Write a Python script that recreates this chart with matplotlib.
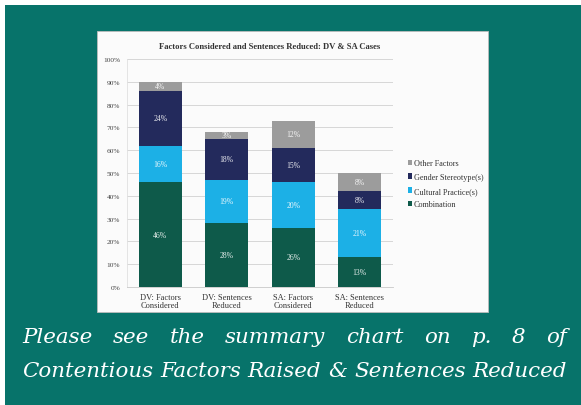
import matplotlib
matplotlib.use("Agg")
import matplotlib.pyplot as plt
from matplotlib.patches import Rectangle
import numpy as np

categories = ["DV: Factors\nConsidered", "DV: Sentences\nReduced", "SA: Factors\nConsidered", "SA: Sentences\nReduced"]
series_names = ["Combination", "Cultural Practice(s)", "Gender Stereotype(s)", "Other Factors"]
combination = [46, 28, 26, 13]
cultural = [16, 19, 20, 21]
gender = [24, 18, 15, 8]
other = [4, 3, 12, 8]
yticks = [0, 10, 20, 30, 40, 50, 60, 70, 80, 90, 100]
title = "Factors Considered and Sentences Reduced: DV & SA Cases"
caption1 = "Please see the summary chart on p. 8 of"
caption2 = "Contentious Factors Raised & Sentences Reduced"

colors = ["#0e5a4a", "#1cb0e6", "#232a5c", "#9c9c9c"]
W, H = 581, 406
fig = plt.figure(figsize=(W / 100, H / 100), dpi=100)
fig.patch.set_facecolor("white")

def px(x0, y0, x1, y1):
    return (x0 / W, 1 - y1 / H, (x1 - x0) / W, (y1 - y0) / H)

x, y, w, h = px(5, 6, 581, 406)
fig.patches.append(Rectangle((x, y), w, h, transform=fig.transFigure, facecolor="#07736a", edgecolor="none", zorder=0))
x, y, w, h = px(97, 32, 488, 313)
fig.patches.append(Rectangle((x, y), w, h, transform=fig.transFigure, facecolor="#fbfbfb", edgecolor="#bcbcbc", linewidth=0.6, zorder=1))

ax = fig.add_axes(px(127, 60, 393, 288))
ax.set_facecolor("none")
ax.set_zorder(2)
serif = ["Liberation Serif", "DejaVu Serif"]

data = [combination, cultural, gender, other]
xs = np.arange(len(categories))
bottom = np.zeros(len(categories))
for vals, col in zip(data, colors):
    vals = np.array(vals, dtype=float)
    ax.bar(xs, vals, bottom=bottom, width=0.645, color=col, edgecolor="none", zorder=3)
    for xi, b, v in zip(xs, bottom, vals):
        ax.text(xi, b + v / 2, f"{int(v)}%", ha="center", va="center", color="white",
                fontsize=5.5, family=serif, zorder=4, alpha=0.9)
    bottom += vals

ax.set_xlim(-0.5, len(categories) - 0.5)
ax.set_ylim(0, 100)
ax.set_yticks(yticks)
ax.set_yticklabels([f"{t}%" for t in yticks], family=serif, fontsize=5.3, color="#444444")
ax.set_xticks(xs)
ax.set_xticklabels(categories, family=serif, fontsize=6, color="#333333", linespacing=1.15)
ax.tick_params(axis="x", length=0, pad=4)
ax.tick_params(axis="y", length=0, pad=5)
ax.grid(axis="y", color="#d0d0d0", linewidth=0.6, zorder=0)
ax.set_axisbelow(True)
for s in ["top", "right"]:
    ax.spines[s].set_visible(False)
ax.spines["left"].set_color("#e0e0e0")
ax.spines["left"].set_linewidth(0.6)
ax.spines["bottom"].set_color("#c8c8c8")
ax.spines["bottom"].set_linewidth(0.6)

fig.text(270 / W, 1 - 47 / H, title, ha="center", va="center", fontsize=6.2, fontweight="bold",
         family=serif, color="#333333", zorder=5)

handles = [Rectangle((0, 0), 1, 1, facecolor=c, edgecolor="none") for c in colors]
leg = fig.legend(handles[::-1], series_names[::-1], loc="upper left",
                 bbox_to_anchor=(405 / W, 1 - 157 / H), frameon=False,
                 prop={"family": serif, "size": 5.9}, handlelength=0.5, handleheight=0.65,
                 handletextpad=0.2, labelspacing=0.7, borderaxespad=0)
for t in leg.get_texts():
    t.set_color("#333333")
leg.set_zorder(5)

renderer = fig.canvas.get_renderer()
X0, X1 = 22, 567
cap_kw = dict(family="DejaVu Serif", style="italic", color="white", va="baseline", ha="left")

probe = fig.text(0, 0, caption2, fontsize=14, **cap_kw)
natural = probe.get_window_extent(renderer).width
probe.remove()
fs = 14 * (X1 - X0) / natural

def justify(line, y_px):
    words = line.split(" ")
    texts = [fig.text(0, 0, wd, fontsize=fs, **cap_kw) for wd in words]
    widths = [t.get_window_extent(renderer).width for t in texts]
    gap = (X1 - X0 - sum(widths)) / (len(words) - 1)
    cx = X0
    for t, wdt in zip(texts, widths):
        t.set_position((cx / W, 1 - y_px / H))
        cx += wdt + gap

justify(caption1, 343)
justify(caption2, 377)

fig.savefig("out.png", dpi=100)
